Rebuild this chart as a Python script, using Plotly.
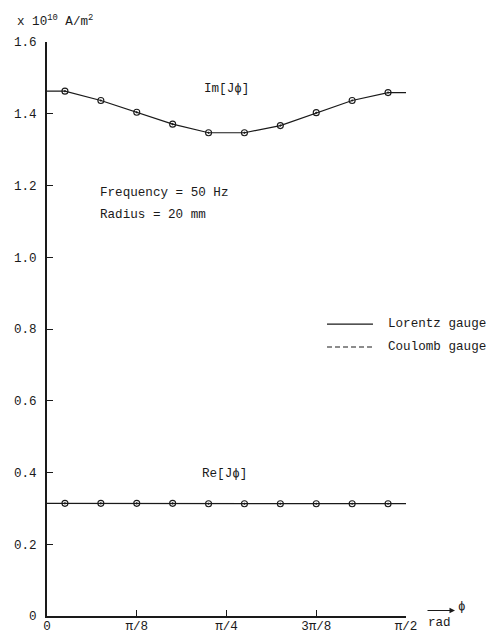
import math
import plotly.graph_objects as go

# Sample angles (rad): midpoints (2k+1)*pi/40 over the quarter period
phi_pts = [(2 * k + 1) * math.pi / 40 for k in range(10)]

# Current density J_phi (x 10^10 A/m^2) at the sample angles
im_lorentz = [1.463, 1.437, 1.404, 1.371, 1.347, 1.347, 1.367, 1.403, 1.437, 1.459]
re_lorentz = [0.314, 0.314, 0.314, 0.314, 0.313, 0.313, 0.313, 0.313, 0.313, 0.313]
im_coulomb = [1.463, 1.437, 1.404, 1.371, 1.347, 1.347, 1.367, 1.403, 1.437, 1.459]
re_coulomb = [0.314, 0.314, 0.314, 0.314, 0.313, 0.313, 0.313, 0.313, 0.313, 0.313]

# Curve values at the ends of the range (phi = 0 and phi = pi/2)
im_ends = [1.463, 1.459]
re_ends = [0.314, 0.313]

x_ticks = [0, math.pi / 8, math.pi / 4, 3 * math.pi / 8, math.pi / 2]
x_labels = ["0", "π/8", "π/4", "3π/8", "π/2"]
y_ticks = [0, 0.2, 0.4, 0.6, 0.8, 1.0, 1.2, 1.4, 1.6]
y_labels = ["0", "0.2", "0.4", "0.6", "0.8", "1.0", "1.2", "1.4", "1.6"]

FONT = "Liberation Mono, Courier New, monospace"
INK = "#1a1a1a"
FS = 12.6

fig = go.Figure()

phi_line = [0] + phi_pts + [math.pi / 2]
for ends, vals in ((im_ends, im_lorentz), (re_ends, re_lorentz)):
    fig.add_trace(go.Scatter(
        x=phi_line, y=[ends[0]] + vals + [ends[1]],
        mode="lines", line=dict(color=INK, width=1.2),
        showlegend=False, hoverinfo="skip"))
for vals in (im_coulomb, re_coulomb):
    fig.add_trace(go.Scatter(
        x=phi_pts, y=vals, mode="markers",
        marker=dict(symbol="circle-open-dot", size=6, color=INK,
                    line=dict(width=1.1, color=INK)),
        showlegend=False))

ann = []
ann.append(dict(text="Im[Jϕ]", x=0.787, y=1.469, xref="x", yref="y",
                showarrow=False))
ann.append(dict(text="Re[Jϕ]", x=0.775, y=0.397, xref="x", yref="y",
                showarrow=False))
ann.append(dict(text="Frequency = 50 Hz", x=0.223, y=1.179, xref="x", yref="y",
                xanchor="left", showarrow=False))
ann.append(dict(text="Radius = 20 mm", x=0.223, y=1.118, xref="x", yref="y",
                xanchor="left", showarrow=False))
ann.append(dict(text="x 10<sup>10</sup> A/m<sup>2</sup>", x=-0.089, y=1.036,
                xref="paper", yref="paper", xanchor="left", yanchor="middle",
                showarrow=False))

# legend entries
leg_x0, leg_x1, leg_tx = 0.780, 0.908, 0.945
for yy, name, dash in ((0.5085, "Lorentz gauge", "solid"),
                       (0.4686, "Coulomb gauge", "5px,3px")):
    fig.add_shape(type="line", xref="paper", yref="paper", x0=leg_x0, x1=leg_x1,
                  y0=yy, y1=yy, line=dict(color=INK, width=1.2, dash=dash))
    ann.append(dict(text=name, x=leg_tx, y=yy, xref="paper", yref="paper",
                    xanchor="left", yanchor="middle", showarrow=False))

# axis direction arrow with its labels
ann.append(dict(text="", x=1.1365, y=0.0096, ax=-29, ay=0,
                xref="paper", yref="paper", axref="pixel", ayref="pixel",
                showarrow=True, arrowhead=2, arrowsize=1, arrowwidth=1.1,
                arrowcolor=INK))
ann.append(dict(text="ϕ", x=1.157, y=0.015, xref="paper", yref="paper",
                xanchor="center", yanchor="middle", showarrow=False))
ann.append(dict(text="rad", x=1.0925, y=-0.013, xref="paper", yref="paper",
                xanchor="center", yanchor="middle", showarrow=False))

fig.update_layout(
    width=486, height=636,
    margin=dict(l=47, r=80, t=42, b=20, autoexpand=False),
    paper_bgcolor="white", plot_bgcolor="white",
    font=dict(family=FONT, color=INK, size=FS),
    annotations=ann,
    showlegend=False,
)
fig.update_xaxes(
    range=[0, math.pi / 2], showgrid=False, zeroline=False,
    showline=True, linecolor=INK, linewidth=1.6,
    ticks="inside", ticklen=6, tickwidth=1.2, tickcolor=INK,
    tickvals=x_ticks, ticktext=x_labels, tickfont=dict(size=FS),
    ticklabelstandoff=-3, automargin=False,
)
fig.update_yaxes(
    range=[0, 1.6], showgrid=False, zeroline=False,
    showline=True, linecolor=INK, linewidth=1.6,
    ticks="inside", ticklen=6, tickwidth=1.2, tickcolor=INK,
    tickvals=y_ticks, ticktext=y_labels, tickfont=dict(size=FS),
    ticklabelstandoff=6, automargin=False,
)

fig.write_html("out.html")
